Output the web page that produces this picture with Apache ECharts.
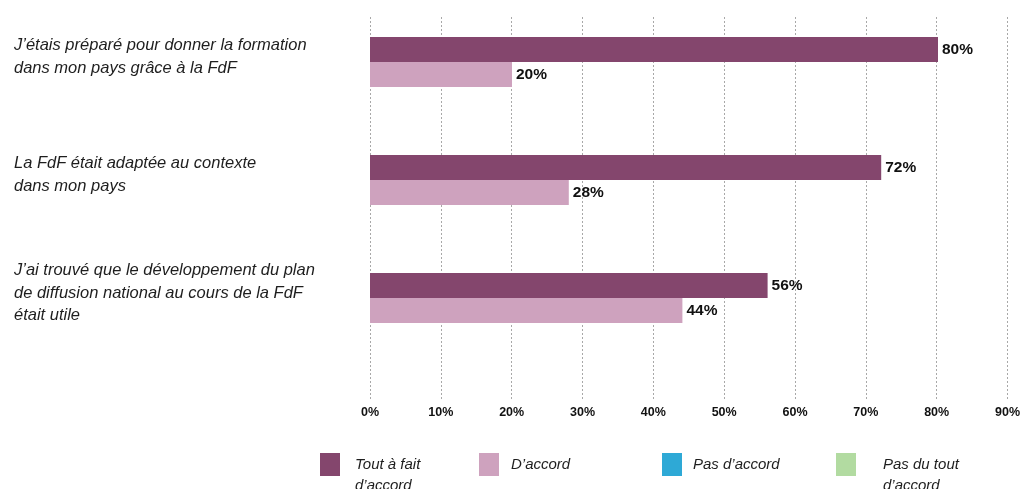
<!DOCTYPE html>
<html><head><meta charset="utf-8">
<script src="https://cdn.jsdelivr.net/npm/echarts@6/dist/echarts.min.js"></script>
<style>html,body{margin:0;padding:0;background:#fff}#c{width:1023px;height:489px}</style>
</head><body><div id="c"></div>
<script>
const categories = [
  "J’étais préparé pour donner la formation\ndans mon pays grâce à la FdF",
  "La FdF était adaptée au contexte\ndans mon pays",
  "J’ai trouvé que le développement du plan\nde diffusion national au cours de la FdF\nétait utile"
];
const seriesNames = ["Tout à fait d’accord", "D’accord", "Pas d’accord", "Pas du tout d’accord"];
const legendLabels = ["Tout à fait\nd’accord", "D’accord", "Pas d’accord", "Pas du tout\nd’accord"];
const toutAFait = [80, 72, 56];
const dAccord = [20, 28, 44];
const pasDAccord = [];
const pasDuTout = [];
const xTicks = [0, 10, 20, 30, 40, 50, 60, 70, 80, 90];

const colors = ["#84466d", "#cea2be", "#2ea9d6", "#b2dba1"];
const font = "Liberation Sans";
const chart = echarts.init(document.getElementById('c'));

const legendPos = [
  {left: 315, top: 428, pad: [0, 0, 0, 10]},
  {left: 474, top: 448, pad: [0, 0, 0, 7]},
  {left: 657, top: 448, pad: [0, 0, 0, 6]},
  {left: 831, top: 428, pad: [0, 0, 0, 22]}
];

chart.setOption({
  animation: false,
  grid: [
    {left: 370, right: 14, top: 3, height: 354},
    {left: 370, right: 14, top: 17, bottom: 89}
  ],
  xAxis: [
    {gridIndex: 0, type: 'value', min: xTicks[0], max: xTicks[xTicks.length-1], interval: 10, show: false},
    {gridIndex: 1, type: 'value', min: xTicks[0], max: xTicks[xTicks.length-1], interval: 10,
      axisLine: {show: false}, axisTick: {show: false},
      splitLine: {show: true, lineStyle: {type: [2, 2], color: '#a8a8a8', width: 1}},
      axisLabel: {formatter: '{value}%', color: '#111', fontWeight: 'bold', fontSize: 12.5, fontFamily: font, margin: 6}}
  ],
  yAxis: [
    {gridIndex: 0, type: 'category', data: categories, inverse: true,
      axisLine: {show: false}, axisTick: {show: false}, splitLine: {show: false},
      axisLabel: {align: 'left', margin: 356,
        formatter: v => {
          const lines = v.split('\n');
          return lines.map(l => '{t|' + l + '}').join('\n') + '\n{s| }';
        },
        rich: {
          t: {color: '#1e1e1e', fontStyle: 'italic', fontSize: 16.5, fontFamily: font, lineHeight: 22.5},
          s: {fontSize: 1, lineHeight: 10}
        }}},
    {gridIndex: 1, type: 'category', data: categories, show: false}
  ],
  legend: seriesNames.map((n, i) => ({
    data: [n], left: legendPos[i].left, top: legendPos[i].top, icon: 'rect', itemWidth: 20, itemHeight: 23,
    formatter: () => (legendLabels[i].indexOf('\n') >= 0 ? '\n' : '') + legendLabels[i],
    textStyle: {fontStyle: 'italic', fontSize: 15, fontFamily: font, color: '#1e1e1e', lineHeight: 21,
      padding: legendPos[i].pad}
  })),
  series: [
    {name: seriesNames[0], type: 'bar', xAxisIndex: 0, yAxisIndex: 0, data: toutAFait,
      barWidth: 25, barGap: '0%', itemStyle: {color: colors[0]},
      label: {show: true, position: 'right', distance: 4, formatter: '{c}%', color: '#111', fontWeight: 'bold', fontSize: 15.5, fontFamily: font}},
    {name: seriesNames[1], type: 'bar', xAxisIndex: 0, yAxisIndex: 0, data: dAccord,
      barWidth: 25, barGap: '0%', itemStyle: {color: colors[1]},
      label: {show: true, position: 'right', distance: 4, formatter: '{c}%', color: '#111', fontWeight: 'bold', fontSize: 15.5, fontFamily: font}},
    {name: seriesNames[2], type: 'bar', xAxisIndex: 1, yAxisIndex: 1, data: pasDAccord, itemStyle: {color: colors[2]}},
    {name: seriesNames[3], type: 'bar', xAxisIndex: 1, yAxisIndex: 1, data: pasDuTout, itemStyle: {color: colors[3]}}
  ]
});
</script></body></html>
